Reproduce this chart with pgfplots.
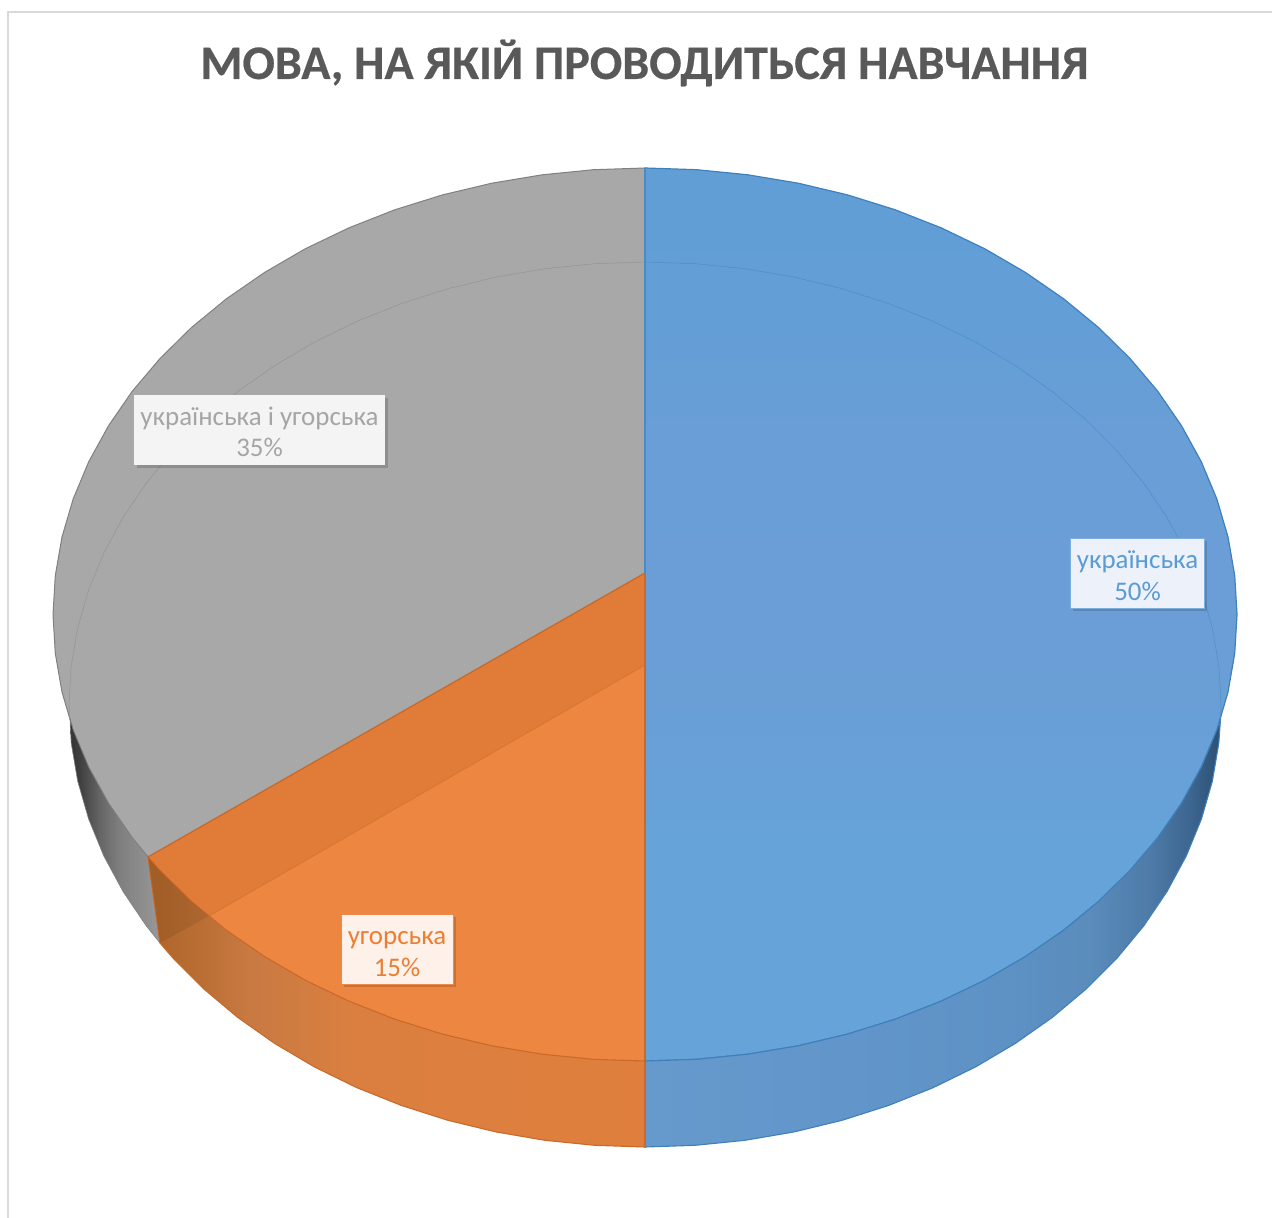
\documentclass[border=0pt]{standalone}
\usepackage{pgfplots}
\pgfplotsset{compat=1.18}
\usepackage{fontspec}
\setmainfont{Carlito}
\usetikzlibrary{shadows}
\definecolor{bord}{HTML}{D9D9D9}
\definecolor{titc}{HTML}{595959}
\definecolor{grayface}{HTML}{A8A8A8}
\definecolor{grayedge}{HTML}{808080}
\definecolor{orA}{HTML}{E07C37}
\definecolor{orB}{HTML}{EC8641}
\definecolor{orEdge}{HTML}{CB6A28}
\definecolor{blEdge}{HTML}{3F80BC}
\definecolor{blText}{HTML}{5B9BD5}
\definecolor{orText}{HTML}{ED7D31}
\definecolor{grText}{HTML}{A5A5A5}
\newcommand{\lt}[2]{\rule{0pt}{26bp}#1\\#2\rule[-4bp]{0pt}{4bp}}
\pgfdeclareverticalshading{blueface}{100bp}{rgb(0bp)=(.396,.639,.847); rgb(37.9bp)=(.396,.639,.847); rgb(41.9bp)=(.408,.627,.843); rgb(48bp)=(.42,.62,.839); rgb(59.2bp)=(.416,.62,.839); rgb(66bp)=(.392,.62,.839); rgb(75bp)=(.38,.62,.84); rgb(100bp)=(.38,.62,.84)}
\pgfdeclarehorizontalshading{blueside}{100bp}{rgb(0bp)=(.40,.60,.80); rgb(25bp)=(.40,.60,.80); rgb(42.8bp)=(.384,.588,.792); rgb(55.8bp)=(.368,.573,.773); rgb(63.6bp)=(.353,.549,.737); rgb(68.8bp)=(.306,.482,.659); rgb(72.3bp)=(.239,.4,.565); rgb(75bp)=(.172,.31,.447); rgb(100bp)=(.172,.31,.447)}
\pgfdeclarehorizontalshading{grayside}{100bp}{rgb(0bp)=(.2,.2,.2); rgb(25bp)=(.2,.2,.2); rgb(30.6bp)=(.25,.25,.25); rgb(41.7bp)=(.4,.4,.4); rgb(52.8bp)=(.5,.5,.5); rgb(66.7bp)=(.56,.56,.56); rgb(75bp)=(.6,.6,.6); rgb(100bp)=(.6,.6,.6)}
\pgfdeclarehorizontalshading{orangeside}{100bp}{rgb(0bp)=(.682,.396,.161); rgb(25bp)=(.682,.396,.161); rgb(30.2bp)=(.729,.431,.2); rgb(35.3bp)=(.784,.478,.259); rgb(45.3bp)=(.855,.498,.251); rgb(75bp)=(.878,.498,.239); rgb(100bp)=(.878,.498,.239)}
\tikzset{lab/.style={font=\fontsize{27}{32}\selectfont, align=center, inner sep=0pt, minimum height=70bp,
  drop shadow={shadow xshift=2.5bp, shadow yshift=-2.5bp, opacity=.15, fill=black}}}
\newfontfamily\titfont[FakeBold=0.5,BoldFont={Carlito Bold}]{Carlito Bold}
\begin{document}
\begin{tikzpicture}
\useasboundingbox (0,0) rectangle (1272bp,1218bp);
\begin{axis}[at={(0,0)}, anchor=south west, scale only axis, width=1272bp, height=1218bp, xmin=0, xmax=1272, ymin=0, ymax=1218,
  y dir=reverse, axis lines=none, ticks=none, clip=true]
% frame
\addplot[bord, line width=2bp, no markers] coordinates {(8,1218)(8,12.5)(1272,12.5)};
% grey top face
\addplot[draw=grayedge, line width=1bp, fill=grayface, no markers] coordinates {
(645,573)(148,857)(132.3,837.8)(108.5,803.2)(88.7,767.2)(73.2,730.1)(62,692)(55.3,653.4)(53,614.5)(55.3,575.6)(62,537)(73.2,498.9)(88.7,461.8)(108.5,425.8)(132.3,391.2)(160.1,358.4)(191.5,327.5)(226.4,298.8)(264.5,272.5)(305.4,248.7)(349,227.8)(394.8,209.8)(442.5,194.9)(491.8,183.2)(542.2,174.8)(593.4,169.7)(645,168)} --cycle;
% orange top face, dark part
\addplot[draw=none, fill=orA, no markers] coordinates {
(645,573)(148,857)(160.1,870.6)(191.5,901.5)(226.4,930.2)(264.5,956.5)(305.4,980.3)(349,1001.2)(394.8,1019.2)(442.5,1034.1)(491.8,1045.8)(542.2,1054.2)(593.4,1059.3)(645,1061)} --cycle;
% orange top face, light part
\addplot[draw=none, fill=orB, no markers] coordinates {
(645,665)(209,916)(226.4,930.2)(264.5,956.5)(305.4,980.3)(349,1001.2)(394.8,1019.2)(442.5,1034.1)(491.8,1045.8)(542.2,1054.2)(593.4,1059.3)(645,1061)} --cycle;
\addplot[draw=orEdge!50!orA, line width=.7bp, no markers] coordinates {(645,665)(209,916)};
\addplot[draw=orEdge, line width=1.2bp, no markers] coordinates {(645,573)(148,857)};
% blue top face
\addplot[draw=blEdge, line width=1.2bp, shading=blueface, no markers] coordinates {
(645,168)(696.6,169.7)(747.8,174.8)(798.2,183.2)(847.5,194.9)(895.2,209.8)(941,227.8)(984.6,248.7)(1025.5,272.5)(1063.6,298.8)(1098.5,327.5)(1129.9,358.4)(1157.7,391.2)(1181.5,425.8)(1201.3,461.8)(1216.8,498.9)(1228,537)(1234.7,575.6)(1237,614.5)(1234.7,653.4)(1228,692)(1216.8,730.1)(1201.3,767.2)(1181.5,803.2)(1157.7,837.8)(1129.9,870.6)(1098.5,901.5)(1063.6,930.2)(1025.5,956.5)(984.6,980.3)(941,1001.2)(895.2,1019.2)(847.5,1034.1)(798.2,1045.8)(747.8,1054.2)(696.6,1059.3)(645,1061)} --cycle;
% grey side
\addplot[draw=grayedge, line width=.6bp, shading=grayside, no markers] coordinates {
(70,719)(73.2,730.1)(88.7,767.2)(108.5,803.2)(132.3,837.8)(148,857)(160,943)(146.2,925.8)(123,891.5)(103.7,855.8)(88.6,819)(77.7,781.3)(71.2,743.1)} --cycle;
% blue side
\addplot[draw=blEdge, line width=1.1bp, shading=blueside, no markers] coordinates {
(1220.5,719)(1216.8,730.1)(1201.3,767.2)(1181.5,803.2)(1157.7,837.8)(1129.9,870.6)(1098.5,901.5)(1063.6,930.2)(1025.5,956.5)(984.6,980.3)(941,1001.2)(895.2,1019.2)(847.5,1034.1)(798.2,1045.8)(747.8,1054.2)(696.6,1059.3)(645,1061)(645,1147)(695.2,1145.3)(745,1140.3)(794.1,1131.9)(842,1120.3)(888.4,1105.5)(933,1087.7)(975.4,1067)(1015.2,1043.5)(1052.3,1017.4)(1086.2,988.9)(1116.8,958.3)(1143.8,925.8)(1167,891.5)(1186.3,855.8)(1201.4,819)(1212.3,781.3)(1218.8,743.1)} --cycle;
% orange side
\addplot[draw=orEdge, line width=1.1bp, shading=orangeside, no markers] coordinates {
(148,857)(160.1,870.6)(191.5,901.5)(226.4,930.2)(264.5,956.5)(305.4,980.3)(349,1001.2)(394.8,1019.2)(442.5,1034.1)(491.8,1045.8)(542.2,1054.2)(593.4,1059.3)(645,1061)(645,1147)(594.8,1145.3)(545,1140.3)(495.9,1131.9)(448,1120.3)(401.6,1105.5)(357,1087.7)(314.6,1067)(274.8,1043.5)(237.7,1017.4)(203.8,988.9)(173.2,958.3)(160,943)} --cycle;
% darker corner of the orange side
\addplot[draw=none, fill=black, fill opacity=.08, no markers] coordinates {(148,857)(160.1,870.6)(191.5,901.5)(209,916)(160,943)} --cycle;
% far edge seen through the faces
\addplot[draw=blEdge!50!blText, line width=.5bp, no markers] coordinates {
(645,262)(695.2,263.7)(745,268.7)(794.1,277.1)(842,288.7)(888.4,303.5)(933,321.3)(975.4,342)(1015.2,365.5)(1052.3,391.6)(1086.2,420.1)(1116.8,450.7)(1143.8,483.2)(1167,517.5)(1186.3,553.2)(1201.4,590)(1212.3,627.7)(1218.8,665.9)(1221,704.5)(1220.5,719)};
\addplot[draw=grayedge!50!grayface, line width=.5bp, no markers] coordinates {
(645,262)(594.8,263.7)(545,268.7)(495.9,277.1)(448,288.7)(401.6,303.5)(357,321.3)(314.6,342)(274.8,365.5)(237.7,391.6)(203.8,420.1)(173.2,450.7)(146.2,483.2)(123,517.5)(103.7,553.2)(88.6,590)(77.7,627.7)(71.2,665.9)(69,704.5)(70,719)};
% vertical divider
\addplot[draw=orEdge, line width=1.2bp, no markers] coordinates {(644.2,573)(644.2,1147)};
\addplot[draw=blEdge!60!blText, line width=1.4bp, no markers] coordinates {(645,168)(645,573)};
% title
\node[text=titc, font=\fontsize{48.2}{52}\selectfont\titfont] at (axis cs:644.5,63) {МОВА, НА ЯКІЙ ПРОВОДИТЬСЯ НАВЧАННЯ};
% data labels
\node[lab, minimum width=134bp, fill={rgb,255:red,237;green,242;blue,250}, draw=blText!80!white, line width=1bp, text=blText] at (axis cs:1137.5,573.5) {\lt{українська}{50\%}};
\node[lab, minimum width=251bp, fill={rgb,255:red,244;green,244;blue,244}, draw=none, text=grText] at (axis cs:259.5,430) {\lt{українська і угорська}{35\%}};
\node[lab, minimum width=112bp, fill={rgb,255:red,253;green,241;blue,234}, draw=orText!90!white, line width=1bp, text=orText] at (axis cs:397,949.5) {\lt{угорська}{15\%}};
\end{axis}
\end{tikzpicture}
\end{document}
